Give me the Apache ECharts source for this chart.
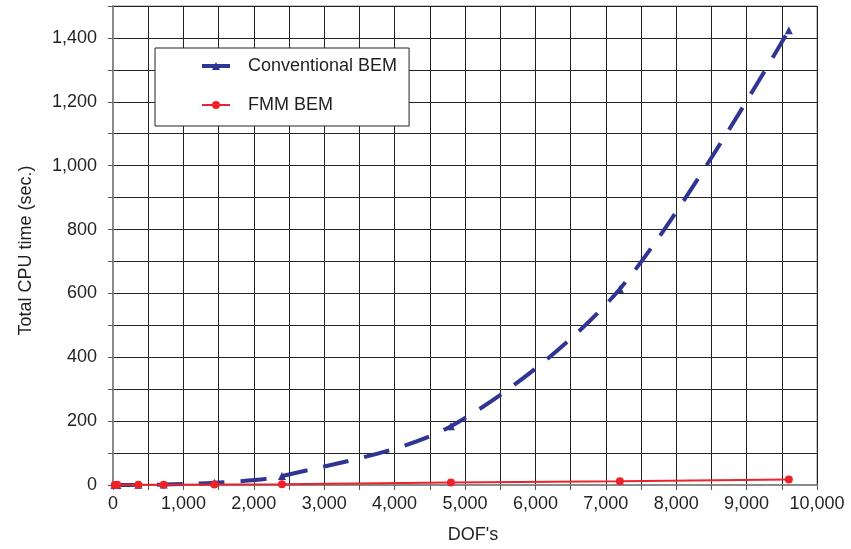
<!DOCTYPE html>
<html>
<head>
<meta charset="utf-8">
<script src="https://cdn.jsdelivr.net/npm/echarts@6/dist/echarts.min.js"></script>
<style>
html,body{margin:0;padding:0;background:#fff;}
#c{width:851px;height:549px;}
</style>
</head>
<body>
<div id="c"></div>
<script>
// Data
var dofs = [24, 60, 360, 720, 1440, 2400, 4800, 7200, 9600];
var conventionalBEM = [0.1, 0.2, 0.5, 1.5, 7, 28, 184, 614, 1424];
var fmmBEM = [0.3, 0.4, 0.6, 1, 1.5, 2, 7.5, 11.5, 17];
var seriesNames = ['Conventional BEM', 'FMM BEM'];
var xTickLabels = [0, 1000, 2000, 3000, 4000, 5000, 6000, 7000, 8000, 9000, 10000];
var yTickLabels = [0, 200, 400, 600, 800, 1000, 1200, 1400];

function pairs(xs, ys) { return xs.map(function (x, i) { return [x, ys[i]]; }); }
function fmt(v) { return v.toString().replace(/\B(?=(\d{3})+(?!\d))/g, ','); }

var FONT = 'Liberation Sans, Arial, sans-serif';
var TXT = '#231F20';
var FS = 18;

var chart = echarts.init(document.getElementById('c'));
chart.setOption({
  animation: false,
  backgroundColor: '#ffffff',
  grid: { left: 113, right: 34, top: 6, bottom: 63, show: true, borderColor: '#8a8a8a', borderWidth: 1 },
  legend: {
    orient: 'vertical',
    left: 155, top: 48,
    padding: [9, 12, 12, 45],
    itemGap: 21,
    itemWidth: 28, itemHeight: 10,
    backgroundColor: '#ffffff',
    borderColor: '#222222', borderWidth: 1, borderRadius: 0,
    textStyle: { fontFamily: FONT, fontSize: FS, color: TXT, padding: [0, 0, 0, 13] },
    data: [
      { name: seriesNames[0], lineStyle: { type: 'solid', width: 4 } },
      { name: seriesNames[1], lineStyle: { type: 'solid', width: 2 } }
    ]
  },
  xAxis: {
    type: 'value', min: 0, max: 10000, interval: 500,
    name: "DOF's", nameLocation: 'middle', nameGap: 41,
    nameTextStyle: { fontFamily: FONT, fontSize: FS, color: TXT, padding: [0, 0, 0, 16] },
    axisLine: { show: true, onZero: false, lineStyle: { color: '#8a8a8a', width: 2 } },
    axisTick: { show: true, inside: false, length: 5, lineStyle: { color: '#555' } },
    axisLabel: {
      margin: 10, fontFamily: FONT, fontSize: FS, color: TXT,
      formatter: function (v) { return xTickLabels.indexOf(v) >= 0 ? fmt(v) : ''; }
    },
    splitLine: { show: true, lineStyle: { color: '#222', width: 1 } }
  },
  yAxis: {
    type: 'value', min: 0, max: 1500, interval: 100,
    name: 'Total CPU time (sec.)', nameLocation: 'middle', nameGap: 78, nameRotate: 90,
    nameTextStyle: { fontFamily: FONT, fontSize: FS, color: TXT, padding: [0, 10, 0, 0] },
    axisLine: { show: true, lineStyle: { color: '#8a8a8a', width: 2 } },
    axisTick: { show: true, inside: false, length: 5, lineStyle: { color: '#555' } },
    axisLabel: {
      margin: 16, fontFamily: FONT, fontSize: FS, color: TXT,
      formatter: function (v) { return yTickLabels.indexOf(v) >= 0 ? fmt(v) : ''; }
    },
    splitLine: { show: true, lineStyle: { color: '#222', width: 1 } }
  },
  series: [
    {
      name: seriesNames[0], type: 'line', data: pairs(dofs, conventionalBEM),
      smooth: 0.3,
      symbol: 'triangle', symbolSize: 8, showSymbol: true,
      itemStyle: { color: '#2E3592' },
      lineStyle: { color: '#2E3592', width: 4, type: [26, 16], cap: 'butt' },
      z: 3
    },
    {
      name: seriesNames[1], type: 'line', data: pairs(dofs, fmmBEM),
      smooth: false,
      symbol: 'circle', symbolSize: 8,
      itemStyle: { color: '#EE2229' },
      lineStyle: { color: '#EE2229', width: 2 },
      z: 4
    }
  ]
});
</script>
</body>
</html>
